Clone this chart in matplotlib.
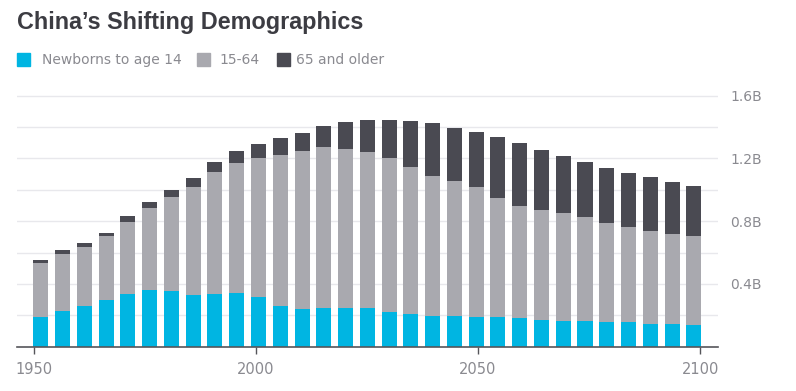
import numpy as np
import matplotlib
matplotlib.use('Agg')
import matplotlib.pyplot as plt
from matplotlib.patches import Rectangle

# Dados (bilhões de pessoas)
years = list(range(1950, 2101, 5))
young = [0.191, 0.227, 0.261, 0.297, 0.338, 0.363, 0.357, 0.331, 0.338, 0.344, 0.314,
         0.261, 0.242, 0.246, 0.246, 0.244, 0.223, 0.208, 0.195, 0.195, 0.191,
         0.189, 0.183, 0.170, 0.163, 0.163, 0.157, 0.157, 0.146, 0.146, 0.138]
working = [0.344, 0.363, 0.376, 0.408, 0.458, 0.522, 0.598, 0.688, 0.777, 0.828, 0.888,
           0.960, 1.006, 1.024, 1.011, 0.998, 0.979, 0.934, 0.892, 0.862, 0.824,
           0.758, 0.715, 0.703, 0.686, 0.661, 0.633, 0.607, 0.591, 0.572, 0.567]
old = [0.017, 0.024, 0.023, 0.017, 0.034, 0.039, 0.045, 0.053, 0.059, 0.072, 0.087,
       0.108, 0.115, 0.133, 0.172, 0.202, 0.242, 0.295, 0.338, 0.338, 0.354,
       0.388, 0.399, 0.382, 0.365, 0.350, 0.350, 0.340, 0.342, 0.333, 0.318]
labels = ['Newborns to age 14', '15-64', '65 and older']
colors = ['#00b5e2', '#a9a9af', '#4a4a52']
xticks = [1950, 2000, 2050, 2100]
yticks = [0.4, 0.8, 1.2, 1.6]

fig = plt.figure(figsize=(7.96, 3.91), dpi=100)
ax = fig.add_axes([0.0214, 0.1133, 0.8806, 0.6504])

# barras em posições de banda (índice), como no original
idx = np.arange(len(years))
young = np.array(young)
working = np.array(working)
old = np.array(old)
w = 0.69
ax.bar(idx, young, width=w, color=colors[0], zorder=2)
ax.bar(idx, working, width=w, bottom=young, color=colors[1], zorder=2)
ax.bar(idx, old, width=w, bottom=young + working, color=colors[2], zorder=2)
ax.set_xlim(-1.093, 31.11)
ax.set_ylim(0, 1.62)

# grade
for g in np.arange(0.2, 1.61, 0.2):
    ax.axhline(g, color='#e8e8ec', lw=1, zorder=1)

ax.set_xticks([])
ax.yaxis.tick_right()
ax.set_yticks(yticks)
ax.set_yticklabels([f'{v:.1f}B' for v in yticks])
ax.tick_params(axis='y', length=0, pad=9, labelsize=10, labelcolor='#8a8a90')
for s in ['top', 'right', 'left']:
    ax.spines[s].set_visible(False)
ax.spines['bottom'].set_color('#55555a')
ax.spines['bottom'].set_linewidth(1.2)
ax.spines['bottom'].set_zorder(3)

# eixo de anos (escala linear separada)
ax2 = ax.twiny()
ax2.set_xlim(1946.24, 2104.0)
ax2.xaxis.tick_bottom()
ax2.set_xticks(xticks)
ax2.set_xticklabels([str(t) for t in xticks])
ax2.tick_params(axis='x', length=5, width=1, color='#55555a', pad=6,
                labelsize=10.5, labelcolor='#8a8a90')
for s in ax2.spines.values():
    s.set_visible(False)

# título
fig.text(17 / 796, 1 - 22 / 391, "China\u2019s Shifting Demographics", fontsize=16.8,
         fontweight='bold', family='Liberation Sans', color='#3c3c42',
         va='center', ha='left')

# legenda manual
sq_x = [17, 197, 277]
txt_x = [42, 219, 296]
for x0, xt, lab, c in zip(sq_x, txt_x, labels, colors):
    fig.patches.append(Rectangle((x0 / 796, 1 - 66 / 391), 13 / 796, 13 / 391,
                                 transform=fig.transFigure, color=c, figure=fig))
    fig.text(xt / 796, 1 - 60 / 391, lab, fontsize=10, color='#8a8a90',
             va='center', ha='left')

plt.savefig('out.png', dpi=100)
plt.close()
